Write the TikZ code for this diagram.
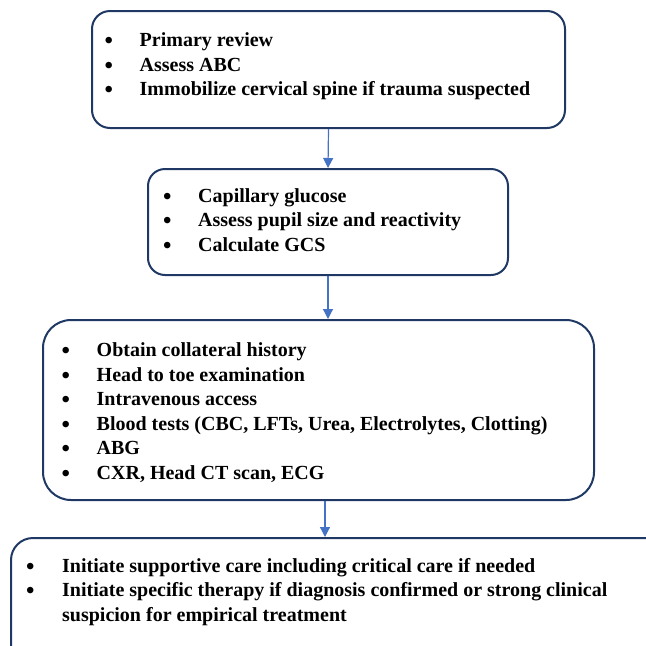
\documentclass[tikz,border=0pt]{standalone}
\usepackage{fontspec}
\setmainfont{Liberation Serif}
\usetikzlibrary{arrows.meta}

\definecolor{boxline}{HTML}{203864}
\definecolor{flowarrow}{HTML}{4472C4}

\tikzset{
  stage/.style={draw=boxline, line width=2pt, rounded corners=#1},
  stage/.default=18pt,
  items/.style={anchor=base west, inner sep=0pt,
    font=\fontsize{20}{24.6}\selectfont\bfseries},
  flow/.style={-{Triangle[width=10pt,length=10pt]}, draw=flowarrow, line width=1.2pt}
}
\newcommand{\dotitem}{\raisebox{-2pt}{\fontsize{24}{24}\selectfont\textbullet}}

\begin{document}
\begin{tikzpicture}[x=1pt,y=-1pt]
\useasboundingbox (0,0) rectangle (646,646);
\clip (0,0) rectangle (646,646);

% the four stages
\node[stage, minimum width=473pt, minimum height=117pt] (b1) at (328.5,69.5) {};
\node[stage=17pt, minimum width=360pt, minimum height=106pt] (b2) at (328,222) {};
\node[stage=28pt, minimum width=551pt, minimum height=180pt] (b3) at (318.5,410) {};
\node[stage=22pt, minimum width=672pt, minimum height=132pt] (b4) at (347,604) {};

% what to do in each stage
\node[items] (t1) at (104.5,46.5) {\begin{tabular}[t]{@{}p{35pt}@{}l@{}}
\dotitem & Primary review\\
\dotitem & Assess ABC\\
\dotitem & Immobilize cervical spine if trauma suspected
\end{tabular}};
\node[items] (t2) at (163,202) {\begin{tabular}[t]{@{}p{35pt}@{}l@{}}
\dotitem & Capillary glucose\\
\dotitem & Assess pupil size and reactivity\\
\dotitem & Calculate GCS
\end{tabular}};
\node[items] (t3) at (61.5,356.5) {\begin{tabular}[t]{@{}p{35pt}@{}l@{}}
\dotitem & Obtain collateral history\\
\dotitem & Head to toe examination\\
\dotitem & Intravenous access\\
\dotitem & Blood tests (CBC, LFTs, Urea, Electrolytes, Clotting)\\
\dotitem & ABG\\
\dotitem & CXR, Head CT scan, ECG
\end{tabular}};
\node[items] (t4) at (26,572) {\begin{tabular}[t]{@{}p{36pt}@{}l@{}}
\dotitem & Initiate supportive care including critical care if needed\\
\dotitem & Initiate specific therapy if diagnosis confirmed or strong clinical\\
 & suspicion for empirical treatment
\end{tabular}};

\draw[flow] (b1.south) -- (b2.north);
\draw[flow] (b2.south) -- (b2.south |- b3.north);
\draw[flow] ([xshift=6.5pt]b3.south) -- ([xshift=6.5pt]b3.south |- b4.north);

\end{tikzpicture}
\end{document}
